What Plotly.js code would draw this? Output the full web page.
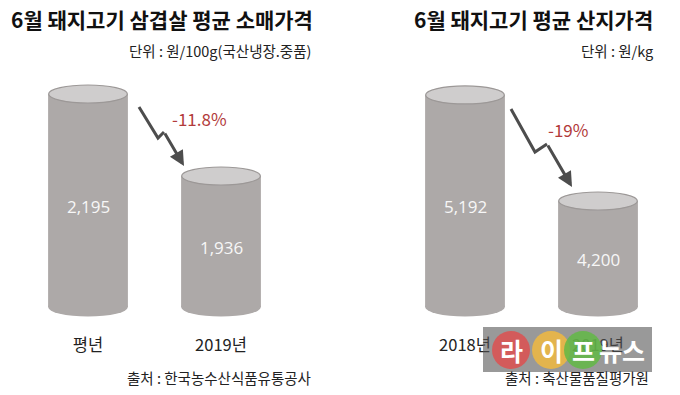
<!DOCTYPE html>
<html>
<head>
<meta charset="utf-8">
<script src="https://cdn.plot.ly/plotly-3.0.1.min.js"></script>
<style>html,body{margin:0;padding:0;background:#fff;}#chart{width:680px;height:395px;}</style>
</head>
<body>
<div id="chart"></div>
<script>
// ---- data ----
const retailCategories = ['평년', '2019년'];
const retailValues = [2195, 1936];
const retailChange = '-11.8%';
const retailTitle = '6월 돼지고기 삼겹살 평균 소매가격';
const retailUnit = '단위 : 원/100g(국산냉장.중품)';
const retailSource = '출처 : 한국농수산식품유통공사';

const farmCategories = ['2018년', '2019년'];
const farmValues = [5192, 4200];
const farmChange = '-19%';
const farmTitle = '6월 돼지고기 평균 산지가격';
const farmUnit = '단위 : 원/kg';
const farmSource = '출처 : 축산물품질평가원';

// ---- layout helpers ----
const W = 680, H = 395;
const FONT = '"Noto Sans CJK KR", "Noto Sans", sans-serif';
const px = x => x / W;
const py = y => 1 - y / H;
const BODY = '#ADA9A8', TOP = '#CFCDCD', EDGE = '#9C9897';
const BAR_W = 0.6;

// axis baselines (values where the cylinder bottoms sit)
const retailBase = 1522, farmBase = 3209;
const retailRange = [1440, 2492], farmRange = [2965, 6080];

function fmt(v){ return v.toLocaleString('en-US'); }

const traces = [
  {type:'bar', x: retailCategories, y: retailValues.map(v => v - retailBase), base: retailBase,
   width: BAR_W, marker:{color: BODY, line:{width:0}}, xaxis:'x', yaxis:'y', hoverinfo:'none'},
  {type:'bar', x: farmCategories, y: farmValues.map(v => v - farmBase), base: farmBase,
   width: BAR_W, marker:{color: BODY, line:{width:0}}, xaxis:'x2', yaxis:'y2', hoverinfo:'none'}
];

const shapes = [];
const annotations = [];

function cylinders(cats, vals, base, xr, yr){
  cats.forEach((c, i) => {
    shapes.push({type:'circle', xref:xr, yref:yr, x0:i - BAR_W/2, x1:i + BAR_W/2,
      ysizemode:'pixel', yanchor: base, y0:-9.5, y1:9.5, fillcolor: BODY, line:{width:0}, layer:'below'});
    shapes.push({type:'circle', xref:xr, yref:yr, x0:i - BAR_W/2 + 0.004, x1:i + BAR_W/2 - 0.004,
      ysizemode:'pixel', yanchor: vals[i], y0:-9, y1:9, fillcolor: TOP, line:{width:1.2, color: EDGE}, layer:'above'});
    annotations.push({xref:xr, yref:yr, x:i, y:(vals[i] + base)/2, text: fmt(vals[i]),
      xanchor:'center', yanchor:'middle',
      showarrow:false, yshift:-6, font:{family:'"Open Sans", "Noto Sans", sans-serif', size:17, color:'#F7F7F7'}});
  });
}
cylinders(retailCategories, retailValues, retailBase, 'x', 'y');
cylinders(farmCategories, farmValues, farmBase, 'x2', 'y2');

// zigzag arrows
function zigzag(p1, p2, p3, tip){
  shapes.push({type:'path', xref:'paper', yref:'paper',
    path:`M ${px(p1[0])} ${py(p1[1])} L ${px(p2[0])} ${py(p2[1])} L ${px(p3[0])} ${py(p3[1])}`,
    line:{color:'#4D4D4D', width:3}});
  annotations.push({xref:'paper', yref:'paper', x:px(tip[0]), y:py(tip[1]), ax:p3[0]-tip[0], ay:p3[1]-tip[1],
    axref:'pixel', ayref:'pixel', text:'', showarrow:true, arrowhead:2, arrowsize:1, arrowwidth:3, arrowcolor:'#4D4D4D'});
}
zigzag([139,107],[158,138],[164,132],[184,166]);
zigzag([511,109],[535,152],[547,144],[572,187]);

// texts
function txt(x, y, t, size, color, anchor, weight){
  annotations.push({xref:'paper', yref:'paper', x:px(x), y:py(y), text:t, showarrow:false,
    xanchor:anchor || 'center', yanchor:'middle',
    font:{family:FONT, size:size, color:color, weight: weight || 'normal'}});
}
txt(315, 19, retailTitle, 21, '#111', 'right', 'bold');
txt(655, 19, farmTitle, 21, '#111', 'right', 'bold');
txt(313, 50, retailUnit, 14.5, '#222', 'right');
txt(655, 50, farmUnit, 14.5, '#222', 'right');
txt(199, 118, retailChange, 17, '#B23B3B', 'center');
txt(568, 129, farmChange, 17, '#B23B3B', 'center');
txt(313, 377, retailSource, 14.5, '#222', 'right');
txt(651, 377, farmSource, 14.5, '#222', 'right');

// watermark
shapes.push({type:'rect', xref:'paper', yref:'paper', x0:px(483), x1:px(652), y0:py(327), y1:py(372),
  fillcolor:'rgba(85,85,85,0.6)', line:{width:0}, layer:'above'});
[[511,'#DD5050'],[551,'#F0B840'],[583,'#62B845']].forEach(([cx,col]) => {
  shapes.push({type:'circle', xref:'paper', yref:'paper', x0:px(cx-19), x1:px(cx+19), y0:py(369), y1:py(331),
    fillcolor:col, opacity:0.85, line:{width:0}, layer:'above'});
});
const wmFont = {family:FONT, size:25, color:'#FFFFFF', weight:'bold'};
[[511,'라'],[551,'이'],[583,'프'],[622,'뉴스']].forEach(([cx,t]) => {
  annotations.push({xref:'paper', yref:'paper', x:px(cx), y:py(350), xanchor:'center', yanchor:'middle',
    text:t, showarrow:false, font:wmFont});
});

const axisX = {type:'category', showgrid:false, zeroline:false, showline:false, ticks:'',
  tickfont:{family:FONT, size:16.5, color:'#222'}, automargin:false, fixedrange:true};
const axisY = {showgrid:false, zeroline:false, showline:false, showticklabels:false, ticks:'', automargin:false, fixedrange:true};

const layout = {
  width: W, height: H,
  margin:{l:0, r:0, t:0, b:0},
  paper_bgcolor:'#FFFFFF', plot_bgcolor:'rgba(0,0,0,0)',
  showlegend:false,
  xaxis: Object.assign({}, axisX, {domain:[px(21.5), px(287.5)], range:[-0.5, 1.5], anchor:'y'}),
  yaxis: Object.assign({}, axisY, {domain:[py(333), 1], range: retailRange, anchor:'x'}),
  xaxis2: Object.assign({}, axisX, {domain:[px(398.5), px(664.5)], range:[-0.5, 1.5], anchor:'y2'}),
  yaxis2: Object.assign({}, axisY, {domain:[py(333), 1], range: farmRange, anchor:'x2'}),
  shapes: shapes,
  annotations: annotations
};

Plotly.newPlot('chart', traces, layout, {staticPlot:true, displayModeBar:false});
</script>
</body>
</html>
